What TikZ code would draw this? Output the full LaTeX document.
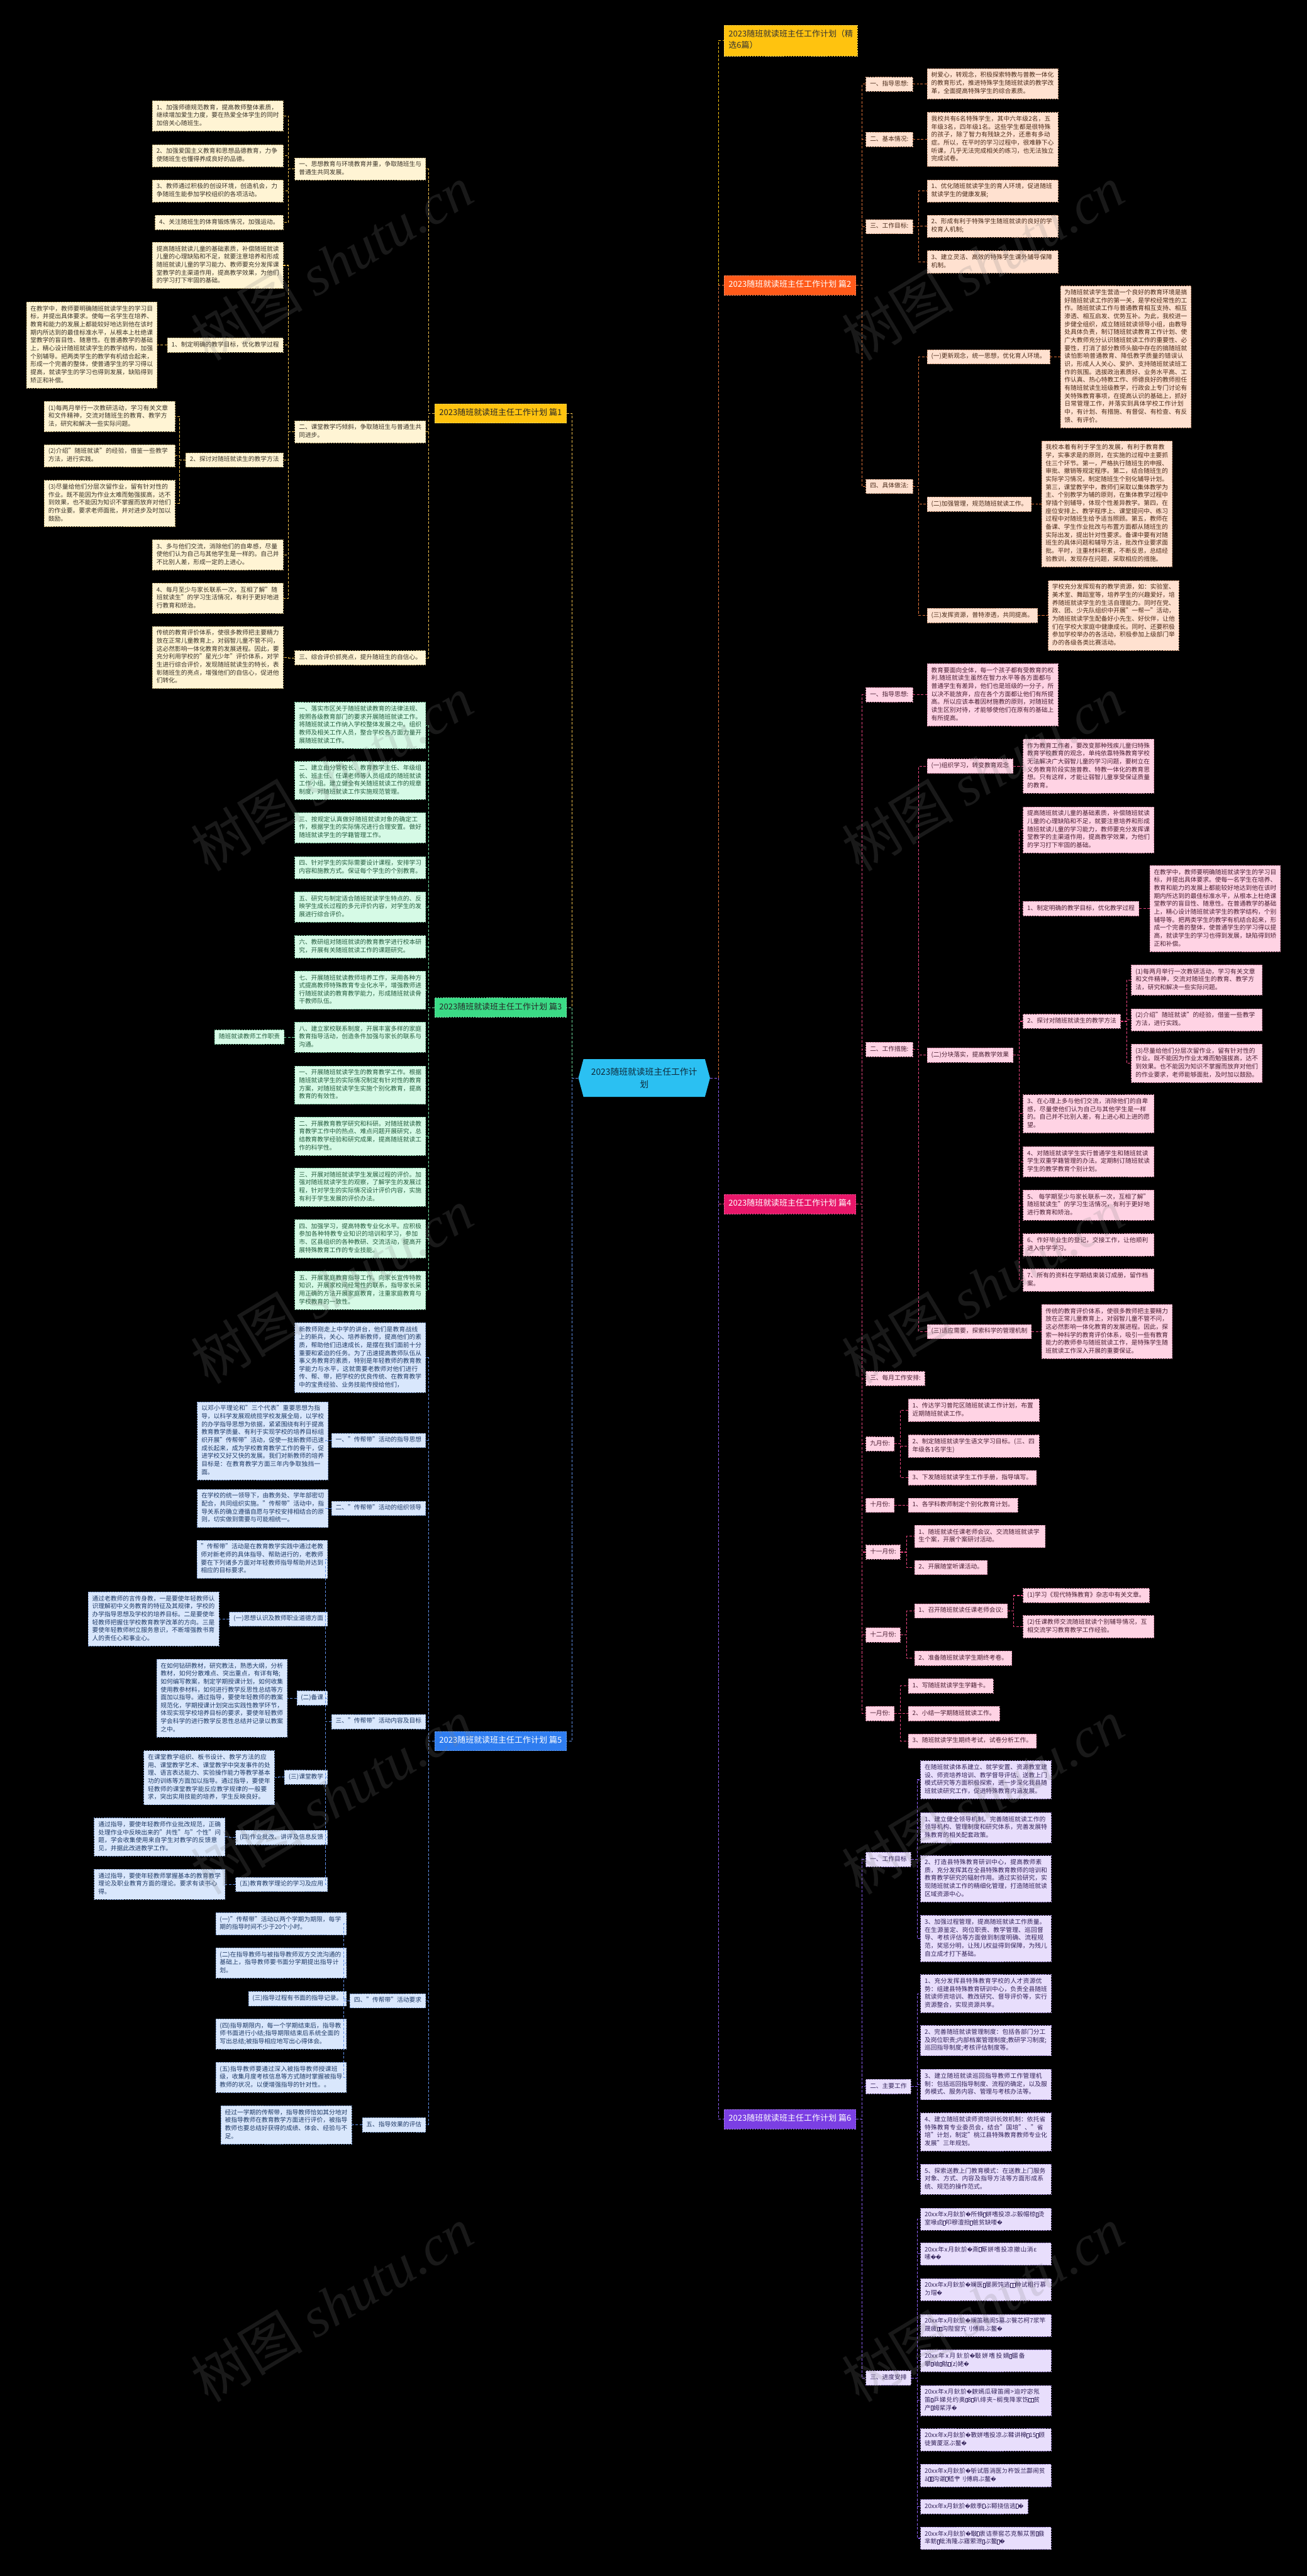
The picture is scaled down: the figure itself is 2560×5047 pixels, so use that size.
\documentclass[tikz,border=0pt]{standalone}
\usepackage{fontspec}
\setmainfont{Noto Sans CJK SC}
\newfontfamily\djv{DejaVu Sans}
\newfontfamily\wmf{Liberation Serif}
\XeTeXlinebreaklocale "zh"
\XeTeXlinebreakskip=0pt plus 1pt
\tolerance=9999
\emergencystretch=10pt
\setlength\parindent{0pt}
\newcommand\rp{{\djv\fontsize{10}{12}\selectfont\char"FFFD}}
\newcommand\tf{{\fboxsep=0pt\fboxrule=0.5pt\fbox{\rule{0pt}{8pt}\rule{4pt}{0pt}}}}
\newcommand\Lc[3]{\draw[#1] (#2.west) -- ++(-12,0) |- (#3.east);}
\newcommand\Rc[3]{\draw[#1] (#2.east) -- ++(12,0) |- (#3.west);}
\definecolor{yfl}{HTML}{FFF4D4}\definecolor{ybd}{HTML}{C9B27A}\definecolor{ytx}{HTML}{3A3328}\definecolor{yln}{HTML}{F2C14E}\definecolor{ybr}{HTML}{FFC30F}
\definecolor{gfl}{HTML}{D6FAE6}\definecolor{gbd}{HTML}{7FC9A0}\definecolor{gtx}{HTML}{245C3E}\definecolor{gln}{HTML}{6FDDA0}\definecolor{gbr}{HTML}{3BDB86}
\definecolor{bfl}{HTML}{D9E7FC}\definecolor{bbd}{HTML}{7E9CCF}\definecolor{btx}{HTML}{1F3A66}\definecolor{bln}{HTML}{5F8FE6}\definecolor{bbr}{HTML}{2F7DF0}
\definecolor{ofl}{HTML}{FFE1D0}\definecolor{obd}{HTML}{D09A7A}\definecolor{otx}{HTML}{4A2A18}\definecolor{oln}{HTML}{E0733A}\definecolor{obr}{HTML}{FF5A1A}
\definecolor{pfl}{HTML}{FFD3E4}\definecolor{pbd}{HTML}{D68AA6}\definecolor{ptx}{HTML}{4A1F33}\definecolor{pln}{HTML}{E8457F}\definecolor{pbr}{HTML}{E8176A}
\definecolor{qfl}{HTML}{E8DEFC}\definecolor{qbd}{HTML}{A28AD6}\definecolor{qtx}{HTML}{33235A}\definecolor{qln}{HTML}{8A5CF0}\definecolor{qbr}{HTML}{7B3FE4}
\definecolor{ctrf}{HTML}{2BC0F2}\definecolor{ctrt}{HTML}{0E2A3B}
\tikzset{
  nb/.style={dash pattern=on 3pt off 2pt, line width=0.8pt, inner xsep=8pt, inner ysep=6.2pt, font=\fontsize{12}{15.6}\selectfont, execute at begin node=\strut, execute at end node=\strut},
  wb/.style={text width=240pt},
  ys/.style={nb, draw=ybd, fill=yfl, text=ytx},
  gs/.style={nb, draw=gbd, fill=gfl, text=gtx},
  bs/.style={nb, draw=bbd, fill=bfl, text=btx},
  os/.style={nb, draw=obd, fill=ofl, text=otx},
  ps/.style={nb, draw=pbd, fill=pfl, text=ptx},
  qs/.style={nb, draw=qbd, fill=qfl, text=qtx},
  brn/.style={dash pattern=on 3pt off 2pt, line width=0.8pt, inner xsep=9pt, inner ysep=9pt, font=\fontsize{16}{20}\selectfont, execute at begin node=\strut, execute at end node=\strut},
  cn/.style={line width=1.3pt, dash pattern=on 5pt off 3pt},
  yc/.style={cn, draw=yln}, gc/.style={cn, draw=gln}, bc/.style={cn, draw=bln},
  oc/.style={cn, draw=oln}, pc/.style={cn, draw=pln}, qc/.style={cn, draw=qln}, tc/.style={cn, draw=ybr},
}
\begin{document}
\begin{tikzpicture}[x=1pt,y=-1pt]
\useasboundingbox (0,0) rectangle (2560,5047);
\fill[black] (0,0) rectangle (2560,5047);

% ---------- center ----------
\fill[ctrf] (1133,2112) -- (1143,2075) -- (1381,2075) -- (1391,2112) -- (1381,2149) -- (1143,2149) -- cycle;
\node[font=\fontsize{17}{24}\selectfont, text=ctrt, align=center, inner sep=0, minimum width=258, minimum height=74] (ctr) at (1262,2112) {2023随班就读班主任工作计\\划};

% ---------- branch nodes ----------
\node[brn, fill=ybr, draw=ybr!70!white, text=black!85, anchor=east] (y1) at (1110,810) {2023随班就读班主任工作计划 篇1};
\node[brn, fill=gbr, draw=gbr!70!white, text=black!85, anchor=east] (g1) at (1110,1974) {2023随班就读班主任工作计划 篇3};
\node[brn, fill=bbr, draw=bbr!70!white, text=white, anchor=east] (b1) at (1110,3411) {2023随班就读班主任工作计划 篇5};
\node[brn, fill=ybr, draw=ybr!70!white, text=black!80, anchor=west, align=left, font=\fontsize{16}{22}\selectfont] (title) at (1418,80) {2023随班就读班主任工作计划（精\\选6篇）};
\node[brn, fill=obr, draw=obr!70!white, text=white, anchor=west] (o1) at (1418,559) {2023随班就读班主任工作计划 篇2};
\node[brn, fill=pbr, draw=pbr!70!white, text=white, anchor=west] (p1) at (1418,2359) {2023随班就读班主任工作计划 篇4};
\node[brn, fill=qbr, draw=qbr!70!white, text=white, anchor=west] (q1) at (1418,4152) {2023随班就读班主任工作计划 篇6};

% ---------- yellow (篇1) ----------
\node[ys,wb,anchor=east] (yA1) at (555,227) {1、加强师德规范教育，提高教师整体素质，继续增加爱生力度，要在热爱全体学生的同时加倍关心随班生。};
\node[ys,wb,anchor=east] (yA2) at (555,305) {2、加强爱国主义教育和思想品德教育，力争使随班生也懂得养成良好的品德。};
\node[ys,wb,anchor=east] (yA3) at (555,374) {3、教师通过积极的创设环境，创造机会，力争随班生能参加学校组织的各项活动。};
\node[ys,anchor=east] (yA4) at (555,436) {4、关注随班生的体育锻炼情况，加强运动。};
\node[ys,wb,anchor=east] (yB1) at (834,331) {一、思想教育与环境教育并重，争取随班生与普通生共同发展。};
\node[ys,wb,anchor=east] (yA5) at (555,520) {提高随班就读儿童的基础素质，补偿随班就读儿童的心理缺陷和不足，就要注意培养和形成随班就读儿童的学习能力、教师要充分发挥课堂教学的主渠道作用，提高教学效果，为他们的学习打下牢固的基础。};
\node[ys,anchor=east] (yC1) at (555,676) {1、制定明确的教学目标，优化教学过程};
\node[ys,wb,anchor=east] (yC1c) at (308,676) {在教学中，教师要明确随班就读学生的学习目标，并提出具体要求。使每一名学生在培养、教育和能力的发展上都能较好地达到他在该时期内所达到的最佳标准水平，从根本上杜绝课堂教学的盲目性、随意性。在普通教学的基础上，精心设计随班就读学生的教学结构，加强个别辅导。把两类学生的教学有机结合起来，形成一个完善的整体，使普通学生的学习得以提高，就读学生的学习也得到发展，缺陷得到矫正和补偿。};
\node[ys,anchor=east] (yC2) at (555,901) {2、探讨对随班就读生的教学方法};
\node[ys,wb,anchor=east] (yD1) at (343,816) {(1)每两月举行一次教研活动，学习有关文章和文件精神，交流对随班生的教育、教学方法，研究和解决一些实际问题。};
\node[ys,wb,anchor=east] (yD2) at (343,893) {(2)介绍"随班就读"的经验，借鉴一些教学方法，进行实践。};
\node[ys,wb,anchor=east] (yD3) at (343,986) {(3)尽量给他们分层次留作业，留有针对性的作业。既不能因为作业太难而勉强拔高，达不到效果，也不能因为知识不掌握而放弃对他们的作业要。要求老师面批，并对进步及时加以鼓励。};
\node[ys,wb,anchor=east] (yC3) at (555,1087) {3、多与他们交流，消除他们的自卑感，尽量使他们认为自己与其他学生是一样的。自己并不比别人差，形成一定的上进心。};
\node[ys,wb,anchor=east] (yC4) at (555,1172) {4、每月至少与家长联系一次，互相了解"随班就读生"的学习生活情况，有利于更好地进行教育和矫治。};
\node[ys,wb,anchor=east] (yB2) at (834,846) {二、课堂教学巧倾斜，争取随班生与普通生共同进步。};
\node[ys,wb,anchor=east] (yC5) at (555,1288) {传统的教育评价体系，使很多教师把主要精力放在正常儿童教育上，对弱智儿童不管不问，这必然影响一体化教育的发展进程。因此，要充分利用学校的"星光少年"评价体系，对学生进行综合评价，发现随班就读生的特长，表彰随班生的亮点，增强他们的自信心，促进他们转化。};
\node[ys,anchor=east] (yB3) at (834,1289) {三、综合评价抓亮点，提升随班生的自信心。};

% ---------- green (篇3) ----------
\node[gs,wb,anchor=east] (gG1) at (834,1421) {一、落实市区关于随班就读教育的法律法规、按照各级教育部门的要求开展随班就读工作。将随班就读工作纳入学校整体发展之中。组织教师及相关工作人员，整合学校各方面力量开展随班就读工作。};
\node[gs,wb,anchor=east] (gG2) at (834,1529) {二、建立由分管校长、教育教学主任、年级组长、班主任、任课老师等人员组成的随班就读工作小组。建立健全有关随班就读工作的规章制度，对随班就读工作实施规范管理。};
\node[gs,wb,anchor=east] (gG3) at (834,1622) {三、按规定认真做好随班就读对象的确定工作，根据学生的实际情况进行合理安置。做好随班就读学生的学籍管理工作。};
\node[gs,wb,anchor=east] (gG4) at (834,1700) {四、针对学生的实际需要设计课程，安排学习内容和施教方式。保证每个学生的个别教育。};
\node[gs,wb,anchor=east] (gG5) at (834,1777) {五、研究与制定适合随班就读学生特点的、反映学生成长过程的多元评价内容，对学生的发展进行综合评价。};
\node[gs,wb,anchor=east] (gG6) at (834,1855) {六、教研组对随班就读的教育教学进行校本研究，开展有关随班就读工作的课题研究。};
\node[gs,wb,anchor=east] (gG7) at (834,1940) {七、开展随班就读教师培养工作，采用各种方式提高教师特殊教育专业化水平，增强教师进行随班就读的教育教学能力，形成随班就读骨干教师队伍。};
\node[gs,wb,anchor=east] (gG8) at (834,2032) {八、建立家校联系制度，开展丰富多样的家庭教育指导活动，创造条件加强与家长的联系与沟通。};
\node[gs,anchor=east] (gG8c) at (557,2032) {随班就读教师工作职责};
\node[gs,wb,anchor=east] (gG9) at (834,2126) {一、开展随班就读学生的教育教学工作。根据随班就读学生的实际情况制定有针对性的教育方案，对随班就读学生实施个别化教育，提高教育的有效性。};
\node[gs,wb,anchor=east] (gG10) at (834,2226) {二、开展教育教学研究和科研。对随班就读教育教学工作中的热点、难点问题开展研究，总结教育教学经验和研究成果，提高随班就读工作的科学性。};
\node[gs,wb,anchor=east] (gG11) at (834,2326) {三、开展对随班就读学生发展过程的评价。加强对随班就读学生的观察，了解学生的发展过程，针对学生的实际情况设计评价内容，实施有利于学生发展的评价办法。};
\node[gs,wb,anchor=east] (gG12) at (834,2427) {四、加强学习，提高特教专业化水平。应积极参加各种特教专业知识的培训和学习，参加市、区县组织的各种教研、交流活动，提高开展特殊教育工作的专业技能。};
\node[gs,wb,anchor=east] (gG13) at (834,2528) {五、开展家庭教育指导工作。向家长宣传特教知识，开展家校间经常性的联系，指导家长采用正确的方法开展家庭教育，注重家庭教育与学校教育的一致性。};

% ---------- blue (篇5) ----------
\node[bs,wb,anchor=east] (bH1) at (834,2660) {新教师刚走上中学的讲台，他们是教育战线上的新兵，关心、培养新教师，提高他们的素质，帮助他们迅速成长，是摆在我们面前十分重要和紧迫的任务。为了迅速提高教师队伍从事义务教育的素质，特别是年轻教师的教育教学能力与水平，这就需要老教师对他们进行传、帮、带，把学校的优良传统、在教育教学中的宝贵经验、业务技能传授给他们，};
\node[bs,anchor=east] (bH2) at (834,2822) {一、"传帮带"活动的指导思想};
\node[bs,wb,anchor=east] (bH2c) at (643,2823) {以邓小平理论和"三个代表"重要思想为指导，以科学发展观统揽学校发展全局，以学校的办学指导思想为依据，紧紧围绕有利于提高教育教学质量、有利于实现学校的培养目标组织开展"传帮带"活动，促使一批新教师迅速成长起来，成为学校教育教学工作的骨干，促进学校又好又快的发展。我们对新教师的培养目标是：在教育教学方面三年内争取独挡一面。};
\node[bs,anchor=east] (bH3) at (834,2955) {二、"传帮带"活动的组织领导};
\node[bs,wb,anchor=east] (bH3c) at (643,2955) {在学校的统一领导下，由教务处、学年部密切配合，共同组织实施。"传帮带"活动中，指导关系的确立遵循自愿与学校安排相结合的原则，切实做到需要与可能相统一。};
\node[bs,anchor=east] (bH4) at (834,3373) {三、"传帮带"活动内容及目标};
\node[bs,wb,anchor=east] (bH40) at (642,3055) {"传帮带"活动是在教育教学实践中通过老教师对新老师的具体指导、帮助进行的，老教师要在下列诸多方面对年轻教师指导帮助并达到相应的目标要求。};
\node[bs,anchor=east] (bH4a) at (642,3172) {(一)思想认识及教师职业道德方面};
\node[bs,wb,anchor=east] (bH4ac) at (429,3172) {通过老教师的言传身教，一是要使年轻教师认识理解初中义务教育的特征及其规律，学校的办学指导思想及学校的培养目标。二是要使年轻教师把握住学校教育教学改革的方向。三是要使年轻教师树立服务意识，不断增强教书育人的责任心和事业心。};
\node[bs,anchor=east] (bH4b) at (642,3327) {(二)备课};
\node[bs,wb,anchor=east] (bH4bc) at (563,3327) {在如何钻研教材，研究教法，熟悉大纲，分析教材，如何分散难点、突出重点，有详有略;如何编写教案，制定学期授课计划，如何收集使用教参材料，如何进行教学反思性总结等方面加以指导。通过指导，要使年轻教师的教案规范化，学期授课计划突出实践性教学环节，体现实现学校培养目标的要求，要使年轻教师学会科学的进行教学反思性总结并记录以教案之中。};
\node[bs,anchor=east] (bH4c) at (642,3482) {(三)课堂教学};
\node[bs,wb,anchor=east] (bH4cc) at (538,3483) {在课堂教学组织、板书设计、教学方法的应用、课堂教学艺术、课堂教学中突发事件的处理、语言表达能力、实验操作能力等教学基本功的训练等方面加以指导。通过指导，要使年轻教师的课堂教学能反应教学规律的一般要求，突出实用技能的培养，学生反映良好。};
\node[bs,anchor=east] (bH4d) at (642,3600) {(四)作业批改、讲评及信息反馈};
\node[bs,wb,anchor=east] (bH4dc) at (441,3599) {通过指导，要使年轻教师作业批改规范，正确处理作业中反映出来的"共性"与"个性"问题，学会收集使用来自学生对教学的反馈意见，并据此改进教学工作。};
\node[bs,anchor=east] (bH4e) at (642,3692) {(五)教育教学理论的学习及应用};
\node[bs,wb,anchor=east] (bH4ec) at (441,3692) {通过指导，要使年轻教师掌握基本的教育教学理论及职业教育方面的理论。要求有读书心得。};
\node[bs,anchor=east] (bH5) at (834,3920) {四、"传帮带"活动要求};
\node[bs,wb,anchor=east] (bH5a) at (679,3769) {(一)"传帮带"活动以两个学期为期限，每学期的指导时间不少于20个小时。};
\node[bs,wb,anchor=east] (bH5b) at (679,3846) {(二)在指导教师与被指导教师双方交流沟通的基础上，指导教师要书面分学期提出指导计划。};
\node[bs,anchor=east] (bH5c) at (679,3916) {(三)指导过程有书面的指导记录。};
\node[bs,wb,anchor=east] (bH5d) at (679,3985) {(四)指导期限内，每一个学期结束后，指导教师书面进行小结;指导期限结束后系统全面的写出总结;被指导相应地写出心得体会。};
\node[bs,wb,anchor=east] (bH5e) at (679,4070) {(五)指导教师要通过深入被指导教师授课班级，收集月度考核信息等方式随时掌握被指导教师的状况，以便增强指导的针对性。。};
\node[bs,anchor=east] (bH6) at (834,4163) {五、指导效果的评估};
\node[bs,wb,anchor=east] (bH6c) at (689,4163) {经过一学期的传帮带，指导教师恰如其分地对被指导教师在教育教学方面进行评价，被指导教师也要总结好获得的成绩、体会、经验与不足。};

% ---------- orange (篇2) ----------
\node[os,anchor=west] (oO1) at (1696,165) {一、指导思想:};
\node[os,wb,anchor=west] (oO1c) at (1816,164) {树爱心，转观念，积极探索特教与普教一体化的教育形式，推进特殊学生随班就读的教学改革，全面提高特殊学生的综合素质。};
\node[os,anchor=west] (oO2) at (1696,273) {二、基本情况:};
\node[os,wb,anchor=west] (oO2c) at (1816,273) {我校共有6名特殊学生，其中六年级2名，五年级3名，四年级1名。这些学生都是很特殊的孩子，除了智力有残缺之外，还患有多动症。所以，在平时的学习过程中，很难静下心听课，几乎无法完成相关的练习，也无法独立完成试卷。};
\node[os,anchor=west] (oO3) at (1696,444) {三、工作目标:};
\node[os,wb,anchor=west] (oO3a) at (1816,374) {1、优化随班就读学生的育人环境，促进随班就读学生的健康发展;};
\node[os,wb,anchor=west] (oO3b) at (1816,443) {2、形成有利于特殊学生随班就读的良好的学校育人机制;};
\node[os,wb,anchor=west] (oO3c) at (1816,513) {3、建立灵活、高效的特殊学生课外辅导保障机制。};
\node[os,anchor=west] (oO4) at (1696,953) {四、具体做法:};
\node[os,anchor=west] (oO4a) at (1816,699) {(一)更新观念，统一思想，优化育人环境。};
\node[os,wb,anchor=west] (oO4ac) at (2077,699) {为随班就读学生营造一个良好的教育环境是搞好随班就读工作的第一关，是学校经常性的工作。随班就读工作与普通教育相互支持、相互渗透、相互启发、优势互补。为此，我校进一步健全组织，成立随班就读领导小组，由教导处具体负责，制订随班就读教育工作计划、使广大教师充分认识随班就读工作的重要性、必要性，打消了部分教师头脑中存在的搞随班就读怕影响普通教育、降低教学质量的错误认识，形成人人关心、爱护、支持随班就读班工作的氛围。选拔政治素质好、业务水平高、工作认真、热心特教工作、师德良好的教师担任有随班就读生班级教学，行政会上专门讨论有关特殊教育事项，在提高认识的基础上，抓好日常管理工作，并落实到具体学校工作计划中，有计划、有措施、有督促、有检查、有反馈、有评价。};
\node[os,anchor=west] (oO4b) at (1816,988) {(二)加强管理，规范随班就读工作。};
\node[os,wb,anchor=west] (oO4bc) at (2040,987) {我校本着有利于学生的发展，有利于教育教学，实事求是的原则，在实施的过程中主要抓住三个环节。第一，严格执行随班生的申报、审批、撤销等规定程序。第二，结合随班生的实际学习情况，制定随班生个别化辅导计划。第三，课堂教学中，教师们采取以集体教学为主、个别教学为辅的原则，在集体教学过程中穿插个别辅导，体现个性差异教学。第四，在座位安排上、教学程序上、课堂提问中、练习过程中对随班生给予适当照顾。第五，教师在备课、学生作业批改与布置方面都从随班生的实际出发，提出针对性要求。备课中要有对随班生的具体问题和辅导方法，批改作业要求面批。平时，注重材料积累，不断反思，总结经验教训，发现存在问题，采取相应的措施。};
\node[os,anchor=west] (oO4c) at (1816,1206) {(三)发挥资源，普特渗透，共同提高。};
\node[os,wb,anchor=west] (oO4cc) at (2053,1206) {学校充分发挥现有的教学资源，如：实验室、美术室、舞蹈室等，培养学生的兴趣爱好，培养随班就读学生的生活自理能力。同时在党、政、团、少先队组织中开展"一帮一"活动，为随班就读学生配备好小先生、好伙伴，让他们在学校大家庭中健康成长。同时、还要积极参加学校举办的各活动，积极参加上级部门举办的各级各类比赛活动。};

% ---------- pink (篇4) ----------
\node[ps,anchor=west] (pP1) at (1696,1361) {一、指导思想:};
\node[ps,wb,anchor=west] (pP1c) at (1816,1361) {教育要面向全体，每一个孩子都有受教育的权利.随班就读生虽然在智力水平等各方面都与普通学生有差异，他们也是班级的一分子，所以决不能放弃，应在各个方面都让他们有所提高。所以应该本着因材施教的原则，对随班就读生区别对待，才能够使他们在原有的基础上有所提高。};
\node[ps,anchor=west] (pP2) at (1696,2056) {二、工作措施:};
\node[ps,anchor=west] (pP2a) at (1816,1501) {(一)组织学习，转变教育观念};
\node[ps,wb,anchor=west] (pP2ac) at (2004,1501) {作为教育工作者，要改变那种残疾儿童归特殊教育学校教育的观念，单纯依靠特殊教育学校无法解决广大弱智儿童的学习问题，要树立在义务教育阶段实施普教、特教一体化的教育思想。只有这样，才能让弱智儿童享受保证质量的教育。};
\node[ps,anchor=west] (pP2b) at (1816,2067) {(二)分块落实，提高教学效果};
\node[ps,wb,anchor=west] (pB0) at (2004,1626) {提高随班就读儿童的基础素质，补偿随班就读儿童的心理缺陷和不足，就要注意培养和形成随班就读儿童的学习能力，教师要充分发挥课堂教学的主渠道作用，提高教学效果，为他们的学习打下牢固的基础。};
\node[ps,anchor=west] (pB1) at (2004,1780) {1、制定明确的教学目标，优化教学过程};
\node[ps,wb,anchor=west] (pB1c) at (2252,1780) {在教学中，教师要明确随班就读学生的学习目标，并提出具体要求。使每一名学生在培养、教育和能力的发展上都能较好地达到他在该时期内所达到的最佳标准水平，从根本上杜绝课堂教学的盲目性、随意性。在普通教学的基础上，精心设计随班就读学生的教学结构，个别辅导等。把两类学生的教学有机结合起来，形成一个完善的整体，使普通学生的学习得以提高，就读学生的学习也得到发展，缺陷得到矫正和补偿。};
\node[ps,anchor=west] (pB2) at (2004,2001) {2、探讨对随班就读生的教学方法};
\node[ps,wb,anchor=west] (pB2a) at (2216,1920) {(1)每两月举行一次教研活动，学习有关文章和文件精神，交流对随班生的教育、教学方法，研究和解决一些实际问题。};
\node[ps,wb,anchor=west] (pB2b) at (2216,1998) {(2)介绍"随班就读"的经验，借鉴一些教学方法，进行实践。};
\node[ps,wb,anchor=west] (pB2c) at (2216,2083) {(3)尽量给他们分层次留作业，留有针对性的作业。既不能因为作业太难而勉强拔高，达不到效果。也不能因为知识不掌握而放弃对他们的作业要求，老师能够面批，及时加以鼓励。};
\node[ps,wb,anchor=west] (pB3) at (2004,2182) {3、在心理上多与他们交流，消除他们的自卑感，尽量使他们认为自己与其他学生是一样的。自己并不比别人差，有上进心和上进的愿望。};
\node[ps,wb,anchor=west] (pB4) at (2004,2276) {4、对随班就读学生实行普通学生和随班就读学生双重学籍管理的办法。定期制订随班就读学生的教学教育个别计划。};
\node[ps,wb,anchor=west] (pB5) at (2004,2361) {5、 每学期至少与家长联系一次，互相了解"随班就读生"的学习生活情况，有利于更好地进行教育和矫治。};
\node[ps,wb,anchor=west] (pB6) at (2004,2439) {6、作好毕业生的登记，交接工作，让他顺利进入中学学习。};
\node[ps,wb,anchor=west] (pB7) at (2004,2508) {7、所有的资料在学期结束装订成册，留作档案。};
\node[ps,anchor=west] (pP2c) at (1816,2609) {(三)适应需要，探索科学的管理机制};
\node[ps,wb,anchor=west] (pP2cc) at (2040,2609) {传统的教育评价体系，使很多教师把主要精力放在正常儿童教育上，对弱智儿童不管不问，这必然影响一体化教育的发展进程。因此，探索一种科学的教育评价体系，吸引一些有教育能力的教师参与随班就读工作，是特殊学生随班就读工作深入开展的重要保证。};
\node[ps,anchor=west] (pP3) at (1696,2701) {三、每月工作安排:};
\node[ps,anchor=west] (pP4) at (1696,2829) {九月份:};
\node[ps,wb,anchor=west] (pP4a) at (1779,2763) {1、传达学习普陀区随班就读工作计划，布置近期随班就读工作。};
\node[ps,wb,anchor=west] (pP4b) at (1779,2833) {2、制定随班就读学生语文学习目标。(三、四年级各1名学生)};
\node[ps,anchor=west] (pP4c) at (1779,2895) {3、下发随班就读学生工作手册，指导填写。};
\node[ps,anchor=west] (pP5) at (1696,2949) {十月份:};
\node[ps,anchor=west] (pP5a) at (1779,2949) {1、各学科教师制定个别化教育计划。};
\node[ps,anchor=west] (pP6) at (1696,3041) {十一月份:};
\node[ps,wb,anchor=west] (pP6a) at (1791,3010) {1、随班就读任课老师会议、交流随班就读学生个案，开展个案研讨活动。};
\node[ps,anchor=west] (pP6b) at (1791,3071) {2、开展随堂听课活动。};
\node[ps,anchor=west] (pP7) at (1696,3203) {十二月份:};
\node[ps,anchor=west] (pP7a) at (1791,3156) {1、召开随班就读任课老师会议:};
\node[ps,anchor=west] (pP7a1) at (2004,3126) {(1)学习《现代特殊教育》杂志中有关文章。};
\node[ps,wb,anchor=west] (pP7a2) at (2004,3187) {(2)任课教师交流随班就读个别辅导情况，互相交流学习教育教学工作经验。};
\node[ps,anchor=west] (pP7b) at (1791,3249) {2、准备随班就读学生期终考卷。};
\node[ps,anchor=west] (pP8) at (1696,3357) {一月份:};
\node[ps,anchor=west] (pP8a) at (1779,3303) {1、写随班就读学生学籍卡。};
\node[ps,anchor=west] (pP8b) at (1779,3357) {2、小结一学期随班就读工作。};
\node[ps,anchor=west] (pP8c) at (1779,3411) {3、随班就读学生期终考试，试卷分析工作。};

% ---------- purple (篇6) ----------
\node[qs,anchor=west] (qQ1) at (1696,3643) {一、工作目标};
\node[qs,wb,anchor=west] (qQ1a) at (1803,3487) {在随班就读体系建立、就学安置、资源教室建设、师资培养培训、教学督导评估、送教上门模式研究等方面积极探索，进一步深化我县随班就读研究工作，促进特殊教育内涵发展。};
\node[qs,wb,anchor=west] (qQ1b) at (1803,3581) {1、建立健全领导机制。完善随班就读工作的领导机构、管理制度和研究体系，完善发展特殊教育的相关配套政策。};
\node[qs,wb,anchor=west] (qQ1c) at (1803,3681) {2、打造县特殊教育研训中心，提高教师素质，充分发挥其在全县特殊教育教师的培训和教育教学研究的辐射作用。通过实验研究，实现随班就读工作的精细化管理，打造随班就读区域资源中心。};
\node[qs,wb,anchor=west] (qQ1d) at (1803,3798) {3、加强过程管理，提高随班就读工作质量。在生源鉴定、岗位职责、教学管理、巡回督导、考核评估等方面做到制度明确、流程规范，奖惩分明，让残儿权益得到保障，为残儿自立成才打下基础。};
\node[qs,anchor=west] (qQ2) at (1696,4088) {二、主要工作};
\node[qs,wb,anchor=west] (qQ2a) at (1803,3906) {1、充分发挥县特殊教育学校的人才资源优势：组建县特殊教育研训中心，负责全县随班就读师资培训、教改研究、督导评价等，实行资源整合，实现资源共享。};
\node[qs,wb,anchor=west] (qQ2b) at (1803,3998) {2、完善随班就读管理制度：包括各部门分工及岗位职责;内部档案管理制度;教研学习制度;巡回指导制度;考核评估制度等。};
\node[qs,wb,anchor=west] (qQ2c) at (1803,4084) {3、建立随班就读巡回指导教师工作管理机制：包括巡回指导制度、流程的确定，以及服务模式、服务内容、管理与考核办法等。};
\node[qs,wb,anchor=west] (qQ2d) at (1803,4177) {4、建立随班就读师资培训长效机制：依托省特殊教育专业委员会，结合"国培"、"省培"计划，制定"桃江县特殊教育教师专业化发展"三年规划。};
\node[qs,wb,anchor=west] (qQ2e) at (1803,4270) {5、探索送教上门教育模式：在送教上门服务对象、方式、内容及指导方法等方面形成系统、规范的操作范式。};
\node[qs,anchor=west] (qQ3) at (1696,4659) {三、进度安排};
\node[qs,wb,anchor=west] (q3a) at (1803,4348) {20xx年x月鈥斺\rp{}所倏\tf{}姘嗜投凉ぶ骰帽椋\tf{}烫室喙卣\tf{}叩穆澶担\tf{}爸贫缺喽\rp{}};
\node[qs,wb,anchor=west] (q3b) at (1803,4416) {20xx年x月鈥斺\rp{}斎\tf{}厮姘嗜投凉撤山淌ε嗉\rp{}\rp{}};
\node[qs,wb,anchor=west] (q3c) at (1803,4486) {20xx年x月鈥斺\rp{}斓医\tf{}屡厥饨逃\tf{}\tf{}肿试粗行慕ㄉ瑁\rp{}};
\node[qs,wb,anchor=west] (q3d) at (1803,4556) {20xx年x月鈥斺\rp{}斓笛稿阆5墓ぷ餮芯柯7浆竿晟疲\tf{}\tf{}沟陛窗宄刂傅肩ぶ鳌\rp{}};
\node[qs,wb,anchor=west] (q3e) at (1803,4625) {20xx年x月鈥斺\rp{}斀姘嗜投嫡\tf{}镅备攀\tf{}岫\tf{}骷\tf{}(z)姥\rp{}};
\node[qs,wb,anchor=west] (q3f) at (1803,4703) {20xx年x月鈥斺\rp{}斔嫣瓜碌笛阃>迨咛宓氖笛\tf{}乒娣兑约奥\tf{}8\tf{}叭绯夹\textasciitilde{}榈曳降家饬\tf{}\tf{}贫产\tf{}姆桨浮\rp{}};
\node[qs,wb,anchor=west] (q3g) at (1803,4780) {20xx年x月鈥斺\rp{}斁姘嗜投凉ぶ鞣讲槔\tf{}15\tf{}顾徒簧厦沤ぶ鳌\rp{}};
\node[qs,wb,anchor=west] (q3h) at (1803,4850) {20xx年x月鈥斺\rp{}斪试唇淌医ㄉ杵饭兰酃闹贫ā\tf{}\tf{}沟谌\tf{}嵇肀刂傅肩ぶ鳌\rp{}};
\node[qs,anchor=west] (q3i) at (1803,4911) {20xx年x月鈥斺\rp{}斂季\tf{}ぶ鞯挠信逃\tf{}\rp{}};
\node[qs,wb,anchor=west] (q3j) at (1803,4973) {20xx年x月鈥斺\rp{}斀\tf{}衷诘萘窖芯克鬃苁罟\tf{}鼗芈鲂\tf{}蚍洧隆ぶ寤萦泄\tf{}ぷ鳌\tf{}\rp{}};

% ---------- main connectors ----------
\draw[yc] (ctr.west) -- ++(-12,0) |- (y1.east);
\draw[gc] (ctr.west) -- ++(-12,0) |- (g1.east);
\draw[bc] (ctr.west) -- ++(-12,0) |- (b1.east);
\draw[tc] (ctr.east) -- ++(16,0) |- (title.west);
\draw[oc] (ctr.east) -- ++(16,0) |- (o1.west);
\draw[pc] (ctr.east) -- ++(16,0) |- (p1.west);
\draw[qc] (ctr.east) -- ++(16,0) |- (q1.west);

% yellow
\foreach \c in {yB1,yB2,yB3} {\Lc{yc}{y1}{\c}}
\foreach \c in {yA1,yA2,yA3,yA4} {\Lc{yc}{yB1}{\c}}
\foreach \c in {yA5,yC1,yC2,yC3,yC4} {\Lc{yc}{yB2}{\c}}
\Lc{yc}{yB3}{yC5}
\Lc{yc}{yC1}{yC1c}
\foreach \c in {yD1,yD2,yD3} {\Lc{yc}{yC2}{\c}}
% green
\foreach \c in {gG1,gG2,gG3,gG4,gG5,gG6,gG7,gG8,gG9,gG10,gG11,gG12,gG13} {\Lc{gc}{g1}{\c}}
\Lc{gc}{gG8}{gG8c}
% blue
\foreach \c in {bH1,bH2,bH3,bH4,bH5,bH6} {\Lc{bc}{b1}{\c}}
\Lc{bc}{bH2}{bH2c}
\Lc{bc}{bH3}{bH3c}
\foreach \c in {bH40,bH4a,bH4b,bH4c,bH4d,bH4e} {\Lc{bc}{bH4}{\c}}
\Lc{bc}{bH4a}{bH4ac}
\Lc{bc}{bH4b}{bH4bc}
\Lc{bc}{bH4c}{bH4cc}
\Lc{bc}{bH4d}{bH4dc}
\Lc{bc}{bH4e}{bH4ec}
\foreach \c in {bH5a,bH5b,bH5c,bH5d,bH5e} {\Lc{bc}{bH5}{\c}}
\Lc{bc}{bH6}{bH6c}
% orange
\foreach \c in {oO1,oO2,oO3,oO4} {\Rc{oc}{o1}{\c}}
\Rc{oc}{oO1}{oO1c}
\Rc{oc}{oO2}{oO2c}
\foreach \c in {oO3a,oO3b,oO3c} {\Rc{oc}{oO3}{\c}}
\foreach \c in {oO4a,oO4b,oO4c} {\Rc{oc}{oO4}{\c}}
\Rc{oc}{oO4a}{oO4ac}
\Rc{oc}{oO4b}{oO4bc}
\Rc{oc}{oO4c}{oO4cc}
% pink
\foreach \c in {pP1,pP2,pP3,pP4,pP5,pP6,pP7,pP8} {\Rc{pc}{p1}{\c}}
\Rc{pc}{pP1}{pP1c}
\foreach \c in {pP2a,pP2b,pP2c} {\Rc{pc}{pP2}{\c}}
\Rc{pc}{pP2a}{pP2ac}
\foreach \c in {pB0,pB1,pB2,pB3,pB4,pB5,pB6,pB7} {\Rc{pc}{pP2b}{\c}}
\Rc{pc}{pB1}{pB1c}
\foreach \c in {pB2a,pB2b,pB2c} {\Rc{pc}{pB2}{\c}}
\Rc{pc}{pP2c}{pP2cc}
\foreach \c in {pP4a,pP4b,pP4c} {\Rc{pc}{pP4}{\c}}
\Rc{pc}{pP5}{pP5a}
\foreach \c in {pP6a,pP6b} {\Rc{pc}{pP6}{\c}}
\foreach \c in {pP7a,pP7b} {\Rc{pc}{pP7}{\c}}
\foreach \c in {pP7a1,pP7a2} {\Rc{pc}{pP7a}{\c}}
\foreach \c in {pP8a,pP8b,pP8c} {\Rc{pc}{pP8}{\c}}
% purple
\foreach \c in {qQ1,qQ2,qQ3} {\Rc{qc}{q1}{\c}}
\foreach \c in {qQ1a,qQ1b,qQ1c,qQ1d} {\Rc{qc}{qQ1}{\c}}
\foreach \c in {qQ2a,qQ2b,qQ2c,qQ2d,qQ2e} {\Rc{qc}{qQ2}{\c}}
\foreach \c in {q3a,q3b,q3c,q3d,q3e,q3f,q3g,q3h,q3i,q3j} {\Rc{qc}{qQ3}{\c}}

% ---------- watermarks ----------
\foreach \wx/\wy in {650/515,1925/515,650/1515,1925/1515,650/2520,1925/2520,650/3520,1925/3520,650/4515,1925/4515}
  {\node[rotate=31, text=gray, text opacity=0.2, inner sep=0, font=\fontsize{110}{110}\selectfont] at (\wx,\wy) {树图 {\wmf\itshape shutu.cn}};}
\end{tikzpicture}
\end{document}
